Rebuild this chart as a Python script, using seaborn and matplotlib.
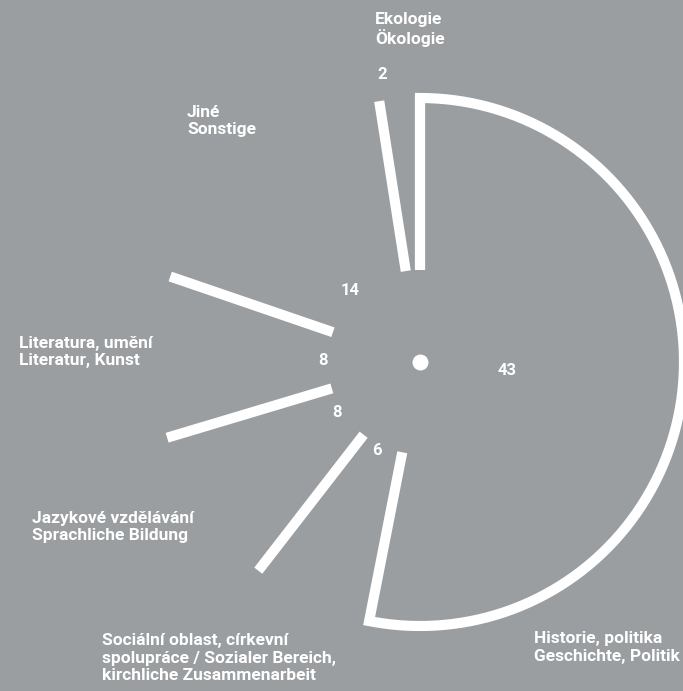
import numpy as np
import pandas as pd
import matplotlib.pyplot as plt
import seaborn as sns

# ## data (counter-clockwise from 12 o'clock)
categories = ['Ekologie\nÖkologie', 'Jiné\nSonstige', 'Literatura, umění\nLiteratur, Kunst',
              'Jazykové vzdělávání\nSprachliche Bildung',
              'Sociální oblast, církevní\nspolupráce / Sozialer Bereich,\nkirchliche Zusammenarbeit',
              'Historie, politika\nGeschichte, Politik']
counts = [2, 14, 8, 8, 6, 43]
value_labels = ['2', '14', '8', '8', '6', '43']

bg = '#9a9ea1'
sns.set_theme(style='white', rc={'axes.facecolor': bg, 'figure.facecolor': bg})
plt.rcParams['font.family'] = ['Roboto', 'DejaVu Sans']

# geometry in pixels
cx, cy = 420, 362
r_in, r_out = 92, 264

fig = plt.figure(figsize=(6.83, 6.91), dpi=100)
ax = fig.add_axes([0, 0, 1, 1])
ax.set_xlim(0, 683)
ax.set_ylim(691, 0)
ax.set_axis_off()

def pt(r, deg):
    a = np.radians(deg)
    return cx + r * np.cos(a), cy - r * np.sin(a)

total = sum(counts)
starts = 90 + 360 * np.concatenate([[0], np.cumsum(counts)[:-1]]) / total
ends = starts + 360 * np.array(counts) / total

rows = []
for i, s in enumerate(starts):
    if i == len(counts) - 1:
        continue
    for r in (r_in, r_out):
        x, y = pt(r, s)
        rows.append({'seg': i, 'x': x, 'y': y})
seg_df = pd.DataFrame(rows)

# big wedge outline: edge at its end angle, arc back round, edge at its start angle
i_big = len(counts) - 1
pts = [pt(r_in, ends[i_big]), pt(r_out, ends[i_big])]
for t in np.linspace(ends[i_big], starts[i_big], 200):
    pts.append(pt(r_out, t))
pts.append(pt(r_in, starts[i_big]))
arc_df = pd.DataFrame(pts, columns=['x', 'y'])
arc_df['seg'] = 99

lw = 7.3
sns.lineplot(data=seg_df, x='x', y='y', units='seg', estimator=None, sort=False,
             color='white', lw=lw, solid_capstyle='butt', ax=ax, legend=False)
sns.lineplot(data=arc_df, x='x', y='y', estimator=None, sort=False,
             color='white', lw=lw, solid_capstyle='butt', solid_joinstyle='miter', ax=ax, legend=False)
ax.plot(cx, cy, 'o', color='white', ms=11.5, mec='none')

# value labels near mid angles
label_r = [290, 100, 97, 97, 99, 87]
label_da = [3.1, 4, 0, -2.8, -1.6, 0]
for i in range(len(counts)):
    mid = (starts[i] + ends[i]) / 2 + label_da[i]
    x, y = pt(label_r[i], mid)
    ax.text(x, y, value_labels[i], color='white', fontsize=12, fontweight='bold',
            ha='center', va='center')

cat_pos = [(375, 11.5), (187, 104.5), (19, 335.5), (32, 510.5), (102, 633.5), (534, 631.5)]
for (x, y), c in zip(cat_pos, categories):
    ax.text(x, y, c, color='white', fontsize=12.5, fontweight='bold', ha='left', va='top',
            linespacing=1.2)

fig.savefig('out.png', dpi=100, facecolor=bg)
